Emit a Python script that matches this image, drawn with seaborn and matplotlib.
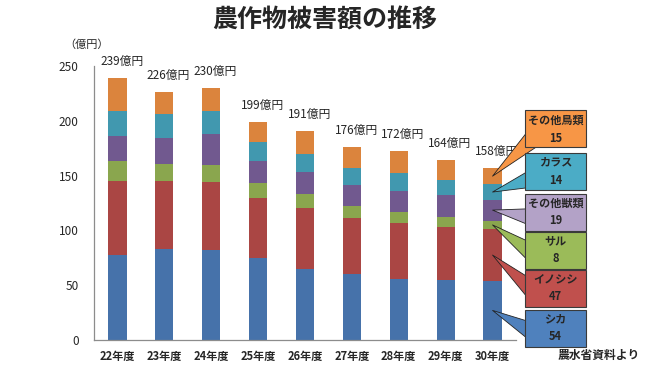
import numpy as np
import pandas as pd
import seaborn as sns
import matplotlib.pyplot as plt
from matplotlib.patches import Rectangle
from matplotlib.ticker import FixedLocator

# data (億円)
years = ['22年度', '23年度', '24年度', '25年度', '26年度', '27年度', '28年度', '29年度', '30年度']
shika = [78, 83, 82, 75, 65, 60, 56, 55, 54]
inoshishi = [67, 62, 62, 55, 55, 51, 51, 48, 47]
saru = [18, 16, 16, 13, 13, 11, 10, 9, 8]
other_beasts = [23, 23, 28, 20, 20, 19, 19, 20, 19]
karasu = [23, 22, 21, 18, 17, 16, 16, 14, 14]
other_birds = [30, 20, 21, 18, 21, 19, 20, 18, 15]
totals = [239, 226, 230, 199, 191, 176, 172, 164, 158]

layer_names = ['シカ', 'イノシシ', 'サル', 'その他獣類', 'カラス', 'その他鳥類']
bar_colors = ['#4672AA', '#AA4644', '#8AA64E', '#71598F', '#4198AF', '#DB843D']
box_colors = ['#4F81BD', '#C0504D', '#9BBB59', '#B3A2C7', '#4BACC6', '#F79646']
# callout box vertical centres (figure pixels from top), bottom layer first
box_centers = [328, 288, 250, 212, 171, 129]

sns.set_style('white')
plt.rcParams['font.family'] = ['Noto Sans CJK JP', 'DejaVu Sans']

W, H = 650, 366
fig = plt.figure(figsize=(W / 100, H / 100), dpi=100)
ax = fig.add_axes([94 / W, 26 / H, (516 - 94) / W, (340 - 66) / H])

df = pd.DataFrame({'year': years, 'シカ': shika, 'イノシシ': inoshishi, 'サル': saru,
                   'その他獣類': other_beasts, 'カラス': karasu, 'その他鳥類': other_birds})
cum = df[layer_names].cumsum(axis=1)

# stacked bars: draw cumulative sums from the top layer down
for name, col in reversed(list(zip(layer_names, bar_colors))):
    sns.barplot(x=df['year'], y=cum[name], color=col, saturation=1, width=0.39,
                linewidth=0, ax=ax)

ax.set_xlim(-0.5, 8.5)
ax.set_ylim(0, 250)
ax.set_yticks(range(0, 251, 50))
ax.set_xlabel('')
ax.set_ylabel('')
for s in ['top', 'right']:
    ax.spines[s].set_visible(False)
for s in ['left', 'bottom']:
    ax.spines[s].set_color('#8c8c8c')
    ax.spines[s].set_linewidth(0.9)
ax.tick_params(axis='y', length=3, color='#8c8c8c', labelsize=8.5, pad=8)
ax.tick_params(axis='x', which='major', length=0, labelsize=8, pad=7)
ax.xaxis.set_minor_locator(FixedLocator(np.arange(0.5, 9, 1)))
ax.tick_params(axis='x', which='minor', length=4, color='#8c8c8c')
for lab in ax.get_xticklabels():
    lab.set_fontweight('bold')

# totals above bars
for i, t in enumerate(totals):
    ax.annotate(f'{t}億円', xy=(i, cum['その他鳥類'][i]), xytext=(3, 12),
                textcoords='offset points', ha='center', va='center', fontsize=8.5)

# callouts for the last year
last = len(years) - 1
bx0, bw, bh = 525, 61, 37
for k, name in enumerate(layer_names):
    top = cum[name][last]
    bottom = top - df[name][last]
    mid = (top + bottom) / 2
    cy = box_centers[k]
    ax.annotate('', xy=(last, mid), xytext=((bx0 + 12) / W, 1 - (cy + 6) / H),
                textcoords='figure fraction', annotation_clip=False,
                arrowprops=dict(arrowstyle='wedge,tail_width=0.7,shrink_factor=0.5',
                                fc=box_colors[k], ec='#222222', lw=0.6,
                                shrinkA=0, shrinkB=0, mutation_scale=20))
    fig.add_artist(Rectangle((bx0 / W, 1 - (cy + bh / 2) / H), bw / W, bh / H,
                             transform=fig.transFigure, fc=box_colors[k],
                             ec='#3a3a3a', lw=0.8, zorder=2))
    fig.text((bx0 + bw / 2) / W, 1 - cy / H, f'{name}\n{df[name][last]}',
             ha='center', va='center', fontsize=8, fontweight='bold',
             linespacing=1.5, zorder=3)

fig.text(0.5, 1 - 20 / H, '農作物被害額の推移', ha='center', va='center',
         fontsize=18, fontweight='bold')
fig.text(87 / W, 1 - 45 / H, '（億円）', ha='center', va='center', fontsize=8)
fig.text(599 / W, 1 - 355 / H, '農水省資料より', ha='center', va='center',
         fontsize=8.5, fontweight='bold')

fig.savefig('out.png', dpi=100)
